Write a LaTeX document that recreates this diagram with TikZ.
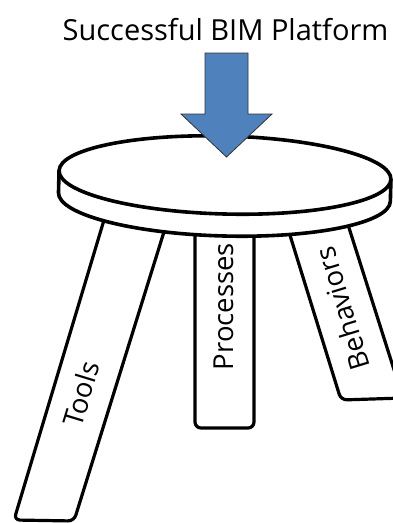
\documentclass[tikz,border=0pt]{standalone}
\usepackage{fontspec}
\setmainfont{Open Sans}
\definecolor{arrowblue}{HTML}{4F81BD}
\begin{document}
\begin{tikzpicture}[x=1pt,y=-1pt,
  lbl/.style={inner sep=0pt, font=\fontsize{29}{35}\selectfont},
  leglbl/.style={inner sep=0pt, font=\fontsize{27.5}{33}\selectfont},
  legbox/.style={draw=black, line width=3.2pt, fill=white, rounded corners=6pt},
  seatline/.style={draw=black, line width=3.6pt, fill=white},
  bigarrow/.style={draw=black!80, line width=0.8pt, fill=arrowblue}]
\useasboundingbox (0,0) rectangle (393,523);
\begin{scope}
\clip (0,0) rectangle (393,523);
% three legs, tops hidden under the seat
\draw[legbox] (113,190) -- (14,520) -- (74,521) -- (177,190);
\draw[legbox] (195,190) -- (195,428) -- (254,428) -- (254,190);
\draw[legbox] (276,190) -- (341,400) -- (403,398) -- (337,190);
\node[leglbl, rotate=73] (tools) at (81,394) {Tools};
\node[leglbl, rotate=90] (proc) at (223.5,306.5) {Processes};
\node[leglbl, rotate=107] (behav) at (342,309) {Behaviors};
% seat
\begin{scope}[rotate around={-1.5:(225,175)}]
\draw[seatline] (59,175) -- (59,197) arc[start angle=180, end angle=0, x radius=166, y radius=39] -- (391,175);
\draw[seatline] (225,175) ellipse[x radius=166, y radius=39];
\end{scope}
\end{scope}
% title and arrow
\node[lbl, anchor=base] (title) at (225.5,40) {Successful BIM Platform};
\draw[bigarrow] (205,53) -- (248,53) -- (248,114) -- (272,114) -- (226.5,157) -- (181,114) -- (205,114) -- cycle;
\end{tikzpicture}
\end{document}
